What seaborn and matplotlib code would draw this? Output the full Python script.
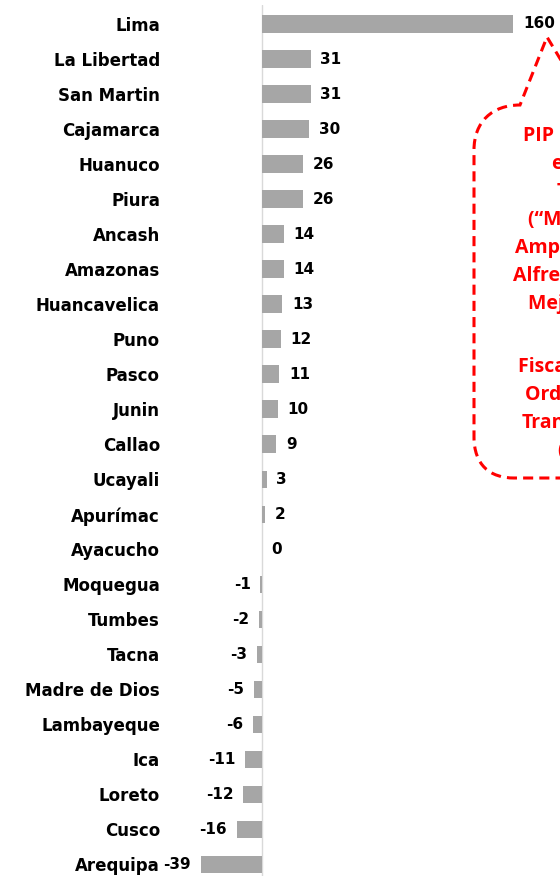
import matplotlib
matplotlib.use('Agg')
import matplotlib.pyplot as plt
from matplotlib.path import Path
from matplotlib.patches import PathPatch
import seaborn as sns
import pandas as pd

regions = ['Lima', 'La Libertad', 'San Martin', 'Cajamarca', 'Huanuco', 'Piura',
           'Ancash', 'Amazonas', 'Huancavelica', 'Puno', 'Pasco', 'Junin',
           'Callao', 'Ucayali', 'Apurímac', 'Ayacucho', 'Moquegua', 'Tumbes',
           'Tacna', 'Madre de Dios', 'Lambayeque', 'Ica', 'Loreto', 'Cusco',
           'Arequipa']
values = [160, 31, 31, 30, 26, 26, 14, 14, 13, 12, 11, 10, 9, 3, 2, 0,
          -1, -2, -3, -5, -6, -11, -12, -16, -39]

callout_top = ['PIP de mayor monto', 'en ejecución:', 'Tramo Norte',
               '(“Mejoramiento y', 'Ampliación de la Av.',
               'Alfredo Mendiola”)', 'Mejoramiento del']
callout_bottom = ['Fiscalización del', 'Ordenamiento del', 'Transporte',
                  '(...)']

W, H = 560, 876
df = pd.DataFrame({'region': regions, 'value': values})

sns.set_style('white')
plt.rcParams['font.family'] = ['DejaVu Sans']
plt.rcParams['text.color'] = 'black'
plt.rcParams['ytick.color'] = 'black'
plt.rcParams['ytick.labelcolor'] = 'black'

fig = plt.figure(figsize=(W / 100, H / 100), dpi=100)
# axes placed in pixel terms: zero line at x=262, 1.57 px per unit
ax_left, ax_right = 196, 560
ax_top, ax_bot = 5, 876
ax = fig.add_axes([ax_left / W, 1 - ax_bot / H, (ax_right - ax_left) / W,
                   (ax_bot - ax_top) / H])

sns.barplot(data=df, x='value', y='region', color='#a6a6a6', width=0.5,
            orient='h', ax=ax, saturation=1, linewidth=0)

scale = 1.57
ax.set_xlim(-(262 - ax_left) / scale, (ax_right - 262) / scale)
ax.set_ylim((ax_bot - 24) / 35.02, -(24 - ax_top) / 35.02)
ax.axvline(0, color='#d9d9d9', lw=1, zorder=0)

for s in ax.spines.values():
    s.set_visible(False)
ax.set_xticks([])
ax.set_xlabel('')
ax.set_ylabel('')
ax.tick_params(axis='y', length=0, pad=26)
for lab in ax.get_yticklabels():
    lab.set_fontweight('bold')
    lab.set_fontsize(12)
    lab.set_color('black')

for i, v in enumerate(values):
    if v >= 0:
        ax.annotate(str(v), (v, i), xytext=(7, 0), textcoords='offset points',
                    ha='left', va='center', fontsize=11, fontweight='bold',
                    color='black')
    else:
        ax.annotate(str(v), (v, i), xytext=(-7, 0), textcoords='offset points',
                    ha='right', va='center', fontsize=11, fontweight='bold',
                    color='black')

# dashed callout bubble (pixel coordinates, y down)
pts = [(585, 100), (547, 37), (520, 105),
       (492, 105), (474, 122), (474, 150),
       (474, 437),
       (474, 465), (490, 478), (514, 478),
       (600, 478)]
codes = [Path.MOVETO, Path.LINETO, Path.LINETO,
         Path.CURVE4, Path.CURVE4, Path.CURVE4,
         Path.LINETO,
         Path.CURVE4, Path.CURVE4, Path.CURVE4,
         Path.LINETO]
path = Path([(x / W, 1 - y / H) for x, y in pts], codes)
fig.patches.append(PathPatch(path, transform=fig.transFigure, fill=False,
                             edgecolor='#ff0000', lw=2.2,
                             linestyle=(0, (3.3, 2))))

# callout text runs past the right edge, as in the original
top_x = [523, 552, 557, 528, 515, 513, 528]
bot_x = [518, 525, 522, 557]
for k, (txt, x) in enumerate(zip(callout_top, top_x)):
    y = 136 + 28 * k
    fig.text(x / W, 1 - y / H, txt, ha='left', va='center', color='#ff0000',
             fontsize=14, fontweight='bold', family=['Open Sans', 'DejaVu Sans'])
for k, (txt, x) in enumerate(zip(callout_bottom, bot_x)):
    y = 367 + 28 * k
    fig.text(x / W, 1 - y / H, txt, ha='left', va='center', color='#ff0000',
             fontsize=14, fontweight='bold', family=['Open Sans', 'DejaVu Sans'])

fig.savefig('out.png', dpi=100)
